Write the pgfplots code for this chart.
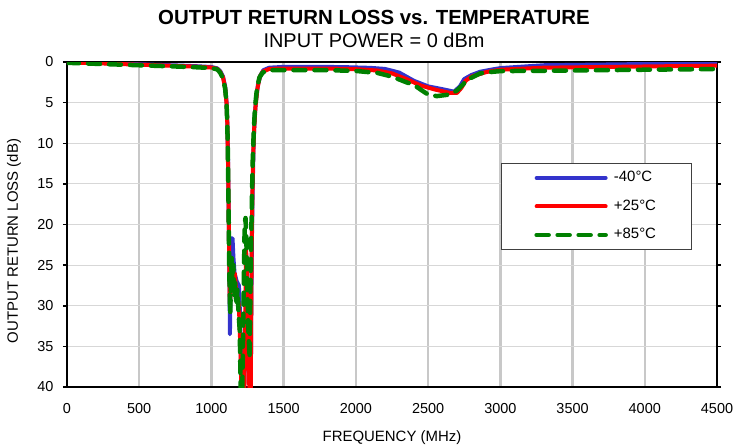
\documentclass[border=0pt]{standalone}
\usepackage{fontspec}
\setmainfont{Liberation Sans}
\usepackage{pgfplots}
\pgfplotsset{compat=1.18}
\definecolor{cold}{RGB}{51,51,204}
\definecolor{room}{RGB}{255,0,0}
\definecolor{hot}{RGB}{0,128,0}
\definecolor{gridgray}{RGB}{200,200,200}
\definecolor{gridlight}{RGB}{215,215,215}

\begin{document}
\begin{tikzpicture}
\path[use as bounding box] (-67bp,-58bp) rectangle (670bp,387bp);
\begin{axis}[
  at={(0,0)}, anchor=south west,
  scale only axis, width=650bp, height=325bp,
  xmin=0, xmax=4500, ymin=0, ymax=40, y dir=reverse,
  xtick={0,500,...,4500}, ytick={0,5,...,40},
  grid=major,
  x grid style={gridgray, line width=2.5bp},
  y grid style={gridlight, line width=1.2bp},
  axis line style={black, line width=2.5bp},
  tick align=outside, major tick length=4bp,
  xtick style={draw=none},
  ytick style={black, line width=1.5bp},
  /pgf/number format/assume math mode=true,
  /pgf/number format/set thousands separator={},
  ticklabel style={font=\fontsize{14.5}{16}\selectfont},
  yticklabel style={xshift=-6bp},
  xticklabel style={anchor=base, yshift=-22bp},
  xlabel={FREQUENCY (MHz)},
  ylabel={OUTPUT RETURN LOSS (dB)},
  label style={font=\fontsize{15}{17}\selectfont},
  xlabel style={at={(axis description cs:0.5,-0.169)}, anchor=base},
  ylabel style={at={(axis description cs:-0.0815,0.449)}, anchor=center},
  legend style={at={(axis description cs:0.6677,0.689)}, anchor=north west,
    draw=black!75, line width=0.8bp, fill=white,
    font=\fontsize{15}{17}\selectfont,
    inner xsep=33bp, inner ysep=5.5bp, row sep=10.5bp,
    nodes={inner sep=2bp, text height=11bp, text depth=3bp},
    /tikz/every odd column/.append style={column sep=4bp}},
  legend cell align=left,
  legend image code/.code={\draw[#1] (0bp,0bp) -- (69bp,0bp);},
  every axis plot/.append style={line join=round, line cap=round},
]
\addplot[cold, line width=4bp] coordinates {
(0,0.00) (250,0.12) (500,0.28) (750,0.42) (900,0.52) (1000,0.62) (1040,0.78)
(1060,1.1) (1080,1.8) (1095,3.0) (1105,5.0) (1110,7.5) (1114,11) (1117,15.5)
(1120,20) (1123,24) (1126,29) (1128,33.5) (1131,29) (1134,24) (1138,21.7)
(1146,21.7) (1152,24) (1160,26) (1175,27) (1190,27.5) (1200,32) (1208,41)
(1225,41) (1240,30) (1250,27) (1260,32) (1268,41) (1272,41) (1276,30)
(1280,22) (1285,16) (1292,10) (1300,6.5) (1310,4.5) (1322,2.8) (1340,1.6)
(1360,1.0) (1400,0.7) (1500,0.6) (1700,0.6) (1900,0.62) (2100,0.72)
(2200,0.85) (2300,1.3) (2400,2.3) (2500,3.0) (2600,3.35) (2680,3.65)
(2720,3.0) (2750,2.1) (2800,1.6) (2860,1.2) (2950,0.9) (3000,0.75)
(3300,0.4) (4000,0.25) (4500,0.15)
};
\addlegendentry{-40°C}
\addplot[room, line width=4bp] coordinates {
(0,0.05) (250,0.18) (500,0.33) (750,0.48) (900,0.58) (1000,0.68) (1040,0.84)
(1060,1.2) (1080,1.9) (1095,3.2) (1105,5.2) (1110,7.7) (1114,11.5) (1117,15.5)
(1120,20) (1123,24) (1126,28.5) (1129,30) (1133,27) (1137,25) (1142,27)
(1148,25.5) (1155,27) (1162,26) (1170,28) (1180,29) (1190,30) (1200,35)
(1208,41) (1228,41) (1235,30) (1240,23) (1245,26) (1255,33) (1263,41)
(1272,41) (1276,30) (1279,22) (1283,17) (1288,12) (1295,8.5) (1305,5.5)
(1318,3.3) (1335,1.8) (1355,1.2) (1400,0.85) (1500,0.8) (1800,0.8)
(2000,0.88) (2150,1.05) (2250,1.4) (2350,2.1) (2450,2.9) (2550,3.4)
(2650,3.8) (2700,3.8) (2730,3.2) (2760,2.3) (2800,1.8) (2900,1.25)
(3000,0.95) (3300,0.7) (4000,0.55) (4500,0.45)
};
\addlegendentry{+25°C}
\addplot[hot, line width=4.5bp, dash pattern=on 12bp off 9bp] coordinates {
(0,0.1) (250,0.25) (500,0.4) (750,0.55) (900,0.65) (1000,0.75) (1040,0.9)
(1060,1.3) (1080,2.0) (1095,3.3) (1105,5.3) (1110,7.8) (1114,11.5) (1117,15.5)
(1120,20) (1123,25) (1126,28) (1130,31) (1135,27) (1140,24) (1146,28)
(1152,25) (1158,29) (1165,27) (1172,30) (1180,28) (1188,31) (1196,33)
(1203,41) (1213,41) (1222,30) (1230,20) (1236,19.2) (1242,22) (1248,28)
(1256,33) (1264,36.5) (1270,28) (1275,22) (1280,17) (1286,12) (1293,8.5)
(1302,5.5) (1315,3.3) (1332,1.9) (1355,1.3) (1400,1.0) (1500,1.0) (1800,1.0)
(2000,1.1) (2150,1.35) (2250,1.8) (2350,2.5) (2400,2.8) (2465,3.6) (2500,4.0)
(2560,4.2) (2650,4.0) (2700,3.5) (2740,2.8) (2770,2.2) (2860,1.4) (2950,1.2)
(3000,1.12) (3300,1.08) (4000,0.95) (4500,0.86)
};
\addlegendentry{+85°C}
\end{axis}
\node[anchor=base, font=\bfseries\fontsize{20.5}{22}\selectfont] at (307bp,362bp) {OUTPUT RETURN LOSS vs. TEMPERATURE};
\node[anchor=base, font=\fontsize{20}{22}\selectfont] at (307bp,339bp) {INPUT POWER = 0 dBm};
\end{tikzpicture}
\end{document}
